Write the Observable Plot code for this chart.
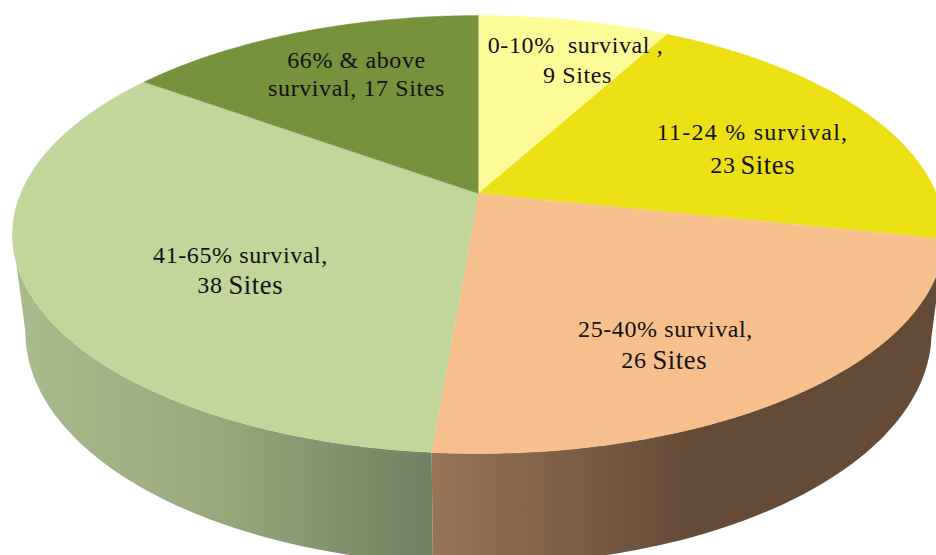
<!DOCTYPE html>
<html>
<head>
<meta charset="utf-8">
<style>
html,body{margin:0;padding:0;background:#fff;overflow:hidden}
svg{display:block;max-width:none}
svg text{letter-spacing:0.6px}
svg .wide text{letter-spacing:1.25px}
</style>
<script src="https://cdn.jsdelivr.net/npm/d3@7"></script>
<script src="https://cdn.jsdelivr.net/npm/@observablehq/plot@0.6"></script>
</head>
<body>
<div id="chart"></div>
<script>
// Data
const categories = ["0-10% survival", "11-24% survival", "25-40% survival", "41-65% survival", "66% & above survival"];
const sites = [9, 23, 26, 38, 17];
const topColors = ["#fdfb97", "#ebe013", "#f7bf8c", "#c2d59b", "#76923c"];

// Labels
const lineLabels = ["66% & above", "survival, 17 Sites", "0-10%\u00a0 survival ,", "9 Sites", "25-40% survival,", "41-65% survival,"];
const lineLabelX = [356, 356, 575, 577, 665, 240];
const lineLabelY = [60, 88, 45, 75, 329, 255];
const wideLabels = ["11-24 % survival,"];
const wideLabelX = [752];
const wideLabelY = [132];
const countLabels = ["23", "38", "26"];
const countLabelEndX = [735, 222, 646];
const countLabelY = [165, 285, 360];
const sitesLabelX = [740, 228, 652];

// Layout of the tilted disc (perspective view)
const W = 936, H = 555;
const topDisc = {cx: 478, cy: 234, rx: 466, ry: 219};
const lowDisc = {cx: 478, cy: 332, rx: 453, ry: 232};
const tilt = 0.187;
const total = d3.sum(sites);
const cum = d3.cumsum(sites);
const startOf = i => (i ? cum[i - 1] : 0) / total * 2 * Math.PI;
const endOf = i => cum[i] / total * 2 * Math.PI;

function project(a, disc, r = 1) {
  const X0 = r * Math.sin(a), Y0 = -r * Math.cos(a);
  const d = 1 - tilt * Y0;
  const X = X0 * Math.sqrt(1 - tilt * tilt) / d;
  const Y = (Y0 - tilt) / d;
  return {x: disc.cx + disc.rx * X, y: disc.cy + disc.ry * Y};
}
const arc = (a0, a1, disc) => d3.range(0, 121).map(k => project(a0 + (a1 - a0) * k / 120, disc));

const rimLeft = 2 * Math.PI - Math.acos(-tilt);
const wedges = sites.map((_, i) => [project(0, topDisc, 0), ...arc(startOf(i), endOf(i), topDisc)]);
const wallBrown = [...arc(startOf(2), endOf(2), topDisc), ...arc(endOf(2), startOf(2), lowDisc)];
const wallGreen = [...arc(startOf(3), rimLeft, topDisc), ...arc(rimLeft, startOf(3), lowDisc)];

const gradient = (id, stops, x1, x2) => (index, {x}) => {
  const defs = d3.create("svg:defs");
  const g = defs.append("linearGradient").attr("id", id).attr("gradientUnits", "userSpaceOnUse")
    .attr("x1", x(x1)).attr("x2", x(x2)).attr("y1", 0).attr("y2", 0);
  stops.forEach(([o, c]) => g.append("stop").attr("offset", o).attr("stop-color", c));
  return defs.node();
};

const font = "'Liberation Serif', serif";
const chart = Plot.plot({
  width: W, height: H,
  margin: 0,
  style: {background: "#fff"},
  x: {domain: [0, W], range: [0, W], axis: null},
  y: {domain: [0, H], range: [0, H], axis: null},
  marks: [
    gradient("wallG", [[0, "#aabb8e"], [0.5, "#98a87c"], [1, "#707f60"]], 12, 432),
    gradient("wallB", [[0, "#977458"], [1, "#644b38"]], 432, 690),
    Plot.line(wallGreen, {x: "x", y: "y", fill: "url(#wallG)", stroke: "none"}),
    Plot.line(wallBrown, {x: "x", y: "y", fill: "url(#wallB)", stroke: "none"}),
    ...wedges.map((w, i) => Plot.line(w, {x: "x", y: "y", fill: topColors[i], stroke: topColors[i], strokeWidth: 0.4, title: () => `${categories[i]}: ${sites[i]} Sites`})),
    Plot.text(lineLabels, {x: (d, i) => lineLabelX[i], y: (d, i) => lineLabelY[i], text: d => d, fontFamily: font, fontSize: 24, fill: "#111", textAnchor: "middle"}),
    Plot.text(wideLabels, {x: (d, i) => wideLabelX[i], y: (d, i) => wideLabelY[i], text: d => d, fontFamily: font, fontSize: 24, fill: "#111", textAnchor: "middle", className: "wide"}),
    Plot.text(countLabels, {x: (d, i) => countLabelEndX[i], y: (d, i) => countLabelY[i], text: d => d, fontFamily: font, fontSize: 24, fill: "#111", textAnchor: "end"}),
    Plot.text(countLabels, {x: (d, i) => sitesLabelX[i], y: (d, i) => countLabelY[i], text: () => "Sites", fontFamily: font, fontSize: 26.5, fill: "#111", textAnchor: "start"})
  ]
});
document.getElementById("chart").append(chart);
</script>
</body>
</html>
